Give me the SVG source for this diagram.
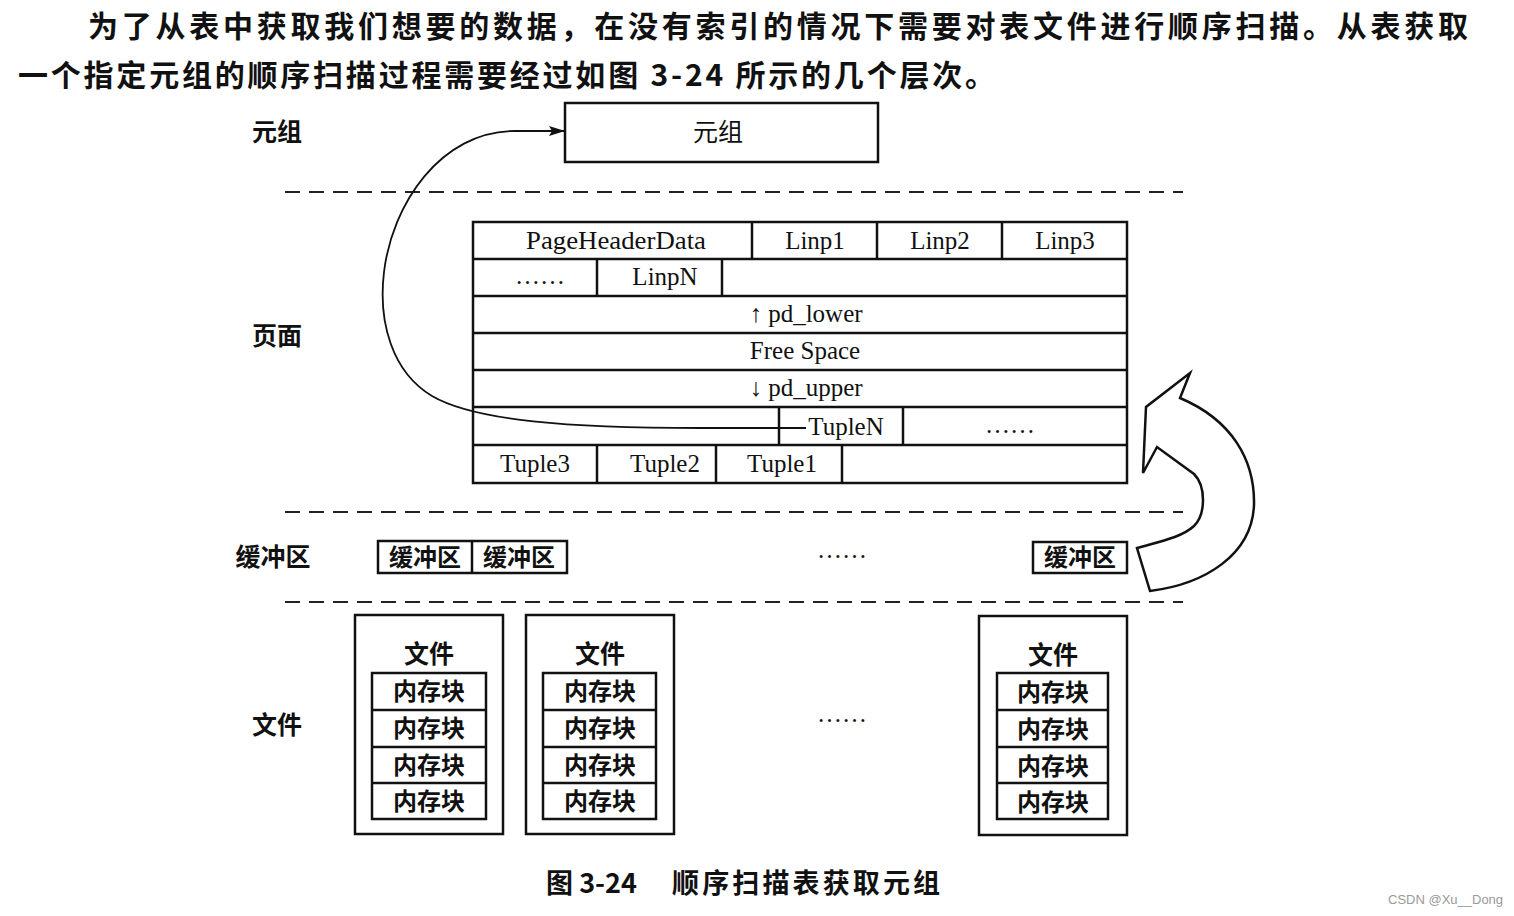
<svg xmlns="http://www.w3.org/2000/svg" width="1514" height="916" viewBox="0 0 1514 916">
<style>
.cjk{font-family:"Noto Sans CJK SC","Noto Sans CJK JP",sans-serif;fill:#111}
.b{font-weight:bold}
.ser{font-family:"Liberation Serif","DejaVu Serif",serif;font-size:25px;fill:#111}
.box{fill:#fff;stroke:#111;stroke-width:2.5}
.ln{stroke:#111;stroke-width:2.5;fill:none}
.dash{stroke:#222;stroke-width:2.2;stroke-dasharray:15 9;fill:none}
.mid{text-anchor:middle}
</style>
<defs>
<marker id="ah" markerWidth="16" markerHeight="10" refX="15" refY="5" orient="auto" markerUnits="userSpaceOnUse">
<path d="M0,0 L16,5 L0,10 L3,5 Z" fill="#111"/>
</marker>
</defs>
<rect width="1514" height="916" fill="#fff"/>

<g id="intro">
<text class="cjk b" x="88" y="37" font-size="30" textLength="1380" lengthAdjust="spacing">为了从表中获取我们想要的数据，在没有索引的情况下需要对表文件进行顺序扫描。从表获取</text>
<text class="cjk b" x="18" y="86" font-size="30" textLength="977" lengthAdjust="spacing">一个指定元组的顺序扫描过程需要经过如图 3-24 所示的几个层次。</text>
</g>

<g id="layer-labels" class="cjk b" font-size="25">
<text x="277" y="141" class="mid">元组</text>
<text x="277" y="345" class="mid">页面</text>
<text x="273" y="566" class="mid">缓冲区</text>
<text x="277" y="734" class="mid">文件</text>
</g>

<g id="separators">
<line class="dash" x1="285" y1="192" x2="1183" y2="192"/>
<line class="dash" x1="285" y1="512" x2="1183" y2="512"/>
<line class="dash" x1="285" y1="602" x2="1183" y2="602"/>
</g>

<g id="tuple">
<rect class="box" x="565" y="103" width="313" height="59"/>
<text class="cjk mid" x="718" y="141" font-size="25">元组</text>
</g>

<g id="page">
<rect class="box" x="473" y="222" width="654" height="261" stroke-width="3"/>
<g class="ln">
<line x1="473" y1="259" x2="1127" y2="259"/>
<line x1="473" y1="296" x2="1127" y2="296"/>
<line x1="473" y1="333" x2="1127" y2="333"/>
<line x1="473" y1="370" x2="1127" y2="370"/>
<line x1="473" y1="407" x2="1127" y2="407"/>
<line x1="473" y1="445" x2="1127" y2="445"/>
<line x1="752" y1="222" x2="752" y2="259"/>
<line x1="877" y1="222" x2="877" y2="259"/>
<line x1="1002" y1="222" x2="1002" y2="259"/>
<line x1="597" y1="259" x2="597" y2="296"/>
<line x1="722" y1="259" x2="722" y2="296"/>
<line x1="779" y1="407" x2="779" y2="445"/>
<line x1="903" y1="407" x2="903" y2="445"/>
<line x1="597" y1="445" x2="597" y2="483"/>
<line x1="716" y1="445" x2="716" y2="483"/>
<line x1="842" y1="445" x2="842" y2="483"/>
</g>
<g class="ser">
<text x="526" y="249" textLength="180" lengthAdjust="spacingAndGlyphs">PageHeaderData</text>
<text x="815" y="249" text-anchor="middle">Linp1</text>
<text x="940" y="249" text-anchor="middle">Linp2</text>
<text x="1065" y="249" text-anchor="middle">Linp3</text>
<text x="540" y="284" text-anchor="middle">……</text>
<text x="665" y="285" text-anchor="middle">LinpN</text>
<text x="806" y="322" text-anchor="middle">↑ pd_lower</text>
<text x="805" y="359" text-anchor="middle">Free Space</text>
<text x="806" y="396" text-anchor="middle">↓ pd_upper</text>
<text x="846" y="435" text-anchor="middle">TupleN</text>
<text x="1010" y="433" text-anchor="middle">……</text>
<text x="535" y="472" text-anchor="middle">Tuple3</text>
<text x="665" y="472" text-anchor="middle">Tuple2</text>
<text x="782" y="472" text-anchor="middle">Tuple1</text>
</g>
</g>

<g id="buffers" class="cjk b" font-size="24">
<rect class="box" x="378" y="541" width="189" height="32" stroke-width="3"/>
<line class="ln" x1="472" y1="541" x2="472" y2="573"/>
<text x="425" y="566" class="mid">缓冲区</text>
<text x="519" y="566" class="mid">缓冲区</text>
<text class="ser" x="842" y="558" text-anchor="middle" font-weight="normal">……</text>
<rect class="box" x="1033" y="542" width="94" height="31" stroke-width="3"/>
<text x="1080" y="566" class="mid">缓冲区</text>
</g>

<g id="file1">
<rect class="box" x="355" y="615" width="148" height="219"/>
<text class="cjk b mid" x="429" y="663" font-size="25">文件</text>
<rect class="box" x="372" y="673" width="114" height="146"/>
<line class="ln" x1="372" y1="710" x2="486" y2="710"/>
<line class="ln" x1="372" y1="747" x2="486" y2="747"/>
<line class="ln" x1="372" y1="783" x2="486" y2="783"/>
<g class="cjk b" font-size="24" text-anchor="middle">
<text x="429" y="700">内存块</text>
<text x="429" y="737">内存块</text>
<text x="429" y="774">内存块</text>
<text x="429" y="810">内存块</text>
</g>
</g>

<g id="file2">
<rect class="box" x="526" y="615" width="148" height="219"/>
<text class="cjk b mid" x="600" y="663" font-size="25">文件</text>
<rect class="box" x="543" y="673" width="113" height="146"/>
<line class="ln" x1="543" y1="710" x2="656" y2="710"/>
<line class="ln" x1="543" y1="747" x2="656" y2="747"/>
<line class="ln" x1="543" y1="783" x2="656" y2="783"/>
<g class="cjk b" font-size="24" text-anchor="middle">
<text x="600" y="700">内存块</text>
<text x="600" y="737">内存块</text>
<text x="600" y="774">内存块</text>
<text x="600" y="810">内存块</text>
</g>
</g>

<g id="file-gap">
<text class="ser" x="842" y="722" text-anchor="middle">……</text>
</g>

<g id="file3">
<rect class="box" x="979" y="616" width="148" height="219"/>
<text class="cjk b mid" x="1053" y="664" font-size="25">文件</text>
<rect class="box" x="997" y="673" width="111" height="146"/>
<line class="ln" x1="997" y1="710" x2="1108" y2="710"/>
<line class="ln" x1="997" y1="747" x2="1108" y2="747"/>
<line class="ln" x1="997" y1="783" x2="1108" y2="783"/>
<g class="cjk b" font-size="24" text-anchor="middle">
<text x="1053" y="701">内存块</text>
<text x="1053" y="738">内存块</text>
<text x="1053" y="775">内存块</text>
<text x="1053" y="811">内存块</text>
</g>
</g>

<g id="connectors">
<path d="M 806 428 L 700 428 C 570 428, 475 421, 432 396 C 392 372, 378 322, 384 272 C 392 205, 440 131, 515 131 L 564 131" fill="none" stroke="#111" stroke-width="1.8" marker-end="url(#ah)"/>
<path d="M 1190 373 L 1180 398 C 1232 420, 1255 460, 1254 505 C 1252 555, 1205 584, 1150 591 L 1137 548 C 1162 541, 1182 537, 1194 526 C 1206 514, 1206 486, 1194 474 L 1157 447 L 1143 473 L 1146 407 Z" fill="#fff" stroke="#111" stroke-width="2.5" stroke-linejoin="miter"/>
</g>

<g id="caption">
<text class="cjk b" x="546" y="893" font-size="27">图 3-24</text>
<text class="cjk b" x="672" y="893" font-size="27" textLength="268" lengthAdjust="spacing">顺序扫描表获取元组</text>
</g>

<text x="1388" y="904" font-family="Liberation Sans, Arial, sans-serif" font-size="13" fill="#999">CSDN @Xu__Dong</text>
</svg>
